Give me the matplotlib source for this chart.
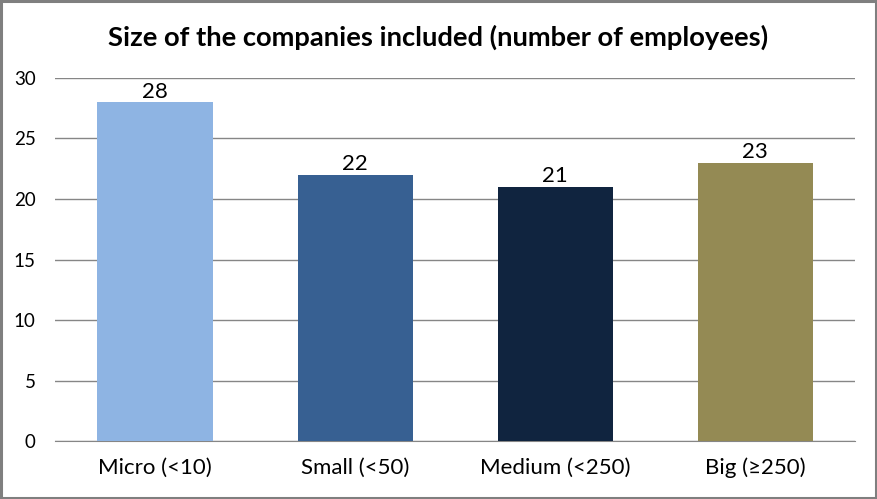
import matplotlib
matplotlib.use("Agg")
import matplotlib.pyplot as plt

# données du graphique
categories = ["Micro (<10)", "Small (<50)", "Medium (<250)", "Big (≥250)"]
employees = [28, 22, 21, 23]
bar_colors = ["#8EB4E3", "#376092", "#10243F", "#948A54"]
y_ticks = [0, 5, 10, 15, 20, 25, 30]

plt.rcParams['font.family'] = ['Lato', 'DejaVu Sans']

fig = plt.figure(figsize=(8.77, 4.99), dpi=100)
fig.patch.set_facecolor("white")
fig.patches.append(plt.Rectangle((0.0015, 0.003), 0.997, 0.994, transform=fig.transFigure,
                                 fill=False, edgecolor="#7f7f7f", linewidth=2.2))

ax = fig.add_axes([0.0627, 0.1162, 0.9123, 0.7275])
x = range(len(categories))
bars = ax.bar(x, employees, width=0.575, color=bar_colors, zorder=3)

for b, v in zip(bars, employees):
    ax.text(b.get_x() + b.get_width() / 2, v + 0.05, str(v),
            ha="center", va="bottom", fontsize=16, color="black", zorder=4)

ax.set_xlim(-0.5, len(categories) - 0.5)
ax.set_ylim(0, 30)
ax.set_yticks(y_ticks)
ax.set_xticks(list(x))
ax.set_xticklabels(categories, fontsize=16)
ax.tick_params(axis="y", labelsize=13.5, length=0, pad=14)
ax.tick_params(axis="x", length=0, pad=12)
ax.yaxis.grid(True, color="#868686", linewidth=1, zorder=0)
for s in ["top", "right", "left"]:
    ax.spines[s].set_visible(False)
ax.spines["bottom"].set_color("#868686")

fig.text(0.5, 0.925, "Size of the companies included (number of employees)",
         ha="center", va="center", fontsize=19.7, fontweight="bold")

fig.savefig("out.png", dpi=100)
